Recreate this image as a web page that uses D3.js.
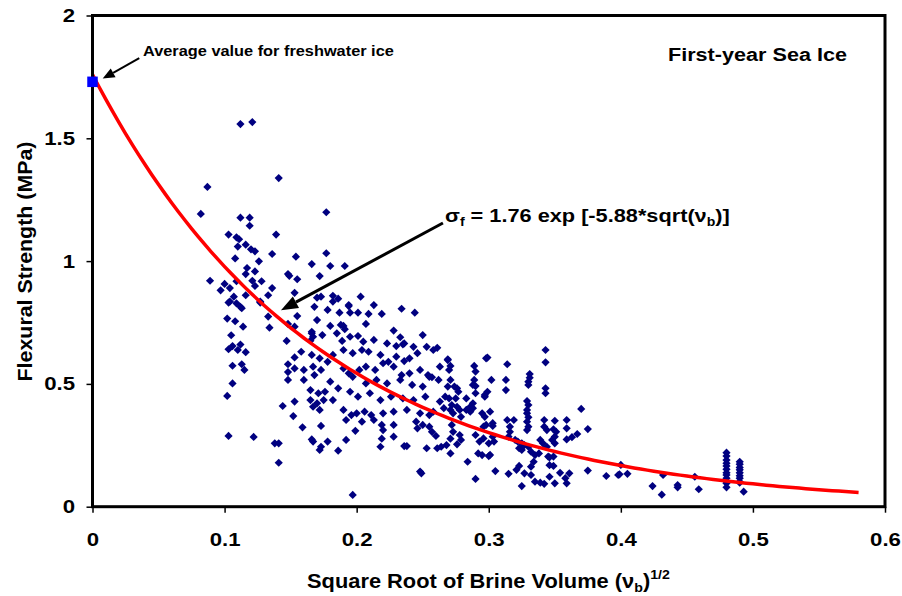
<!DOCTYPE html>
<html>
<head>
<meta charset="utf-8">
<script src="https://cdn.jsdelivr.net/npm/d3@7"></script>
<style>
  html, body { margin: 0; padding: 0; background: #fff; }
  svg { display: block; }
  text { font-family: "Liberation Sans", Arial, Helvetica, sans-serif; font-weight: bold; fill: #000; }
</style>
</head>
<body>
<svg id="chart" width="902" height="596"></svg>
<script>
// Axis ticks
const xTickValues = [0, 0.1, 0.2, 0.3, 0.4, 0.5, 0.6];
const xTickLabels = ["0", "0.1", "0.2", "0.3", "0.4", "0.5", "0.6"];
const yTickValues = [0, 0.5, 1, 1.5, 2];
const yTickLabels = ["0", "0.5", "1", "1.5", "2"];

// Fitted curve: sigma_f = 1.76 exp(-5.88 * sqrt(v_b))
const fitCoefficient = 1.76;
const fitExponent = -5.88;
const fitMaxX = 0.58;

// Freshwater ice reference value [sqrt(v_b), strength MPa]
const freshwaterIce = [0, 1.73];

// First-year sea ice samples: [sqrt(brine volume), flexural strength MPa]
const seaIceSamples = [
  [0.112,1.558],[0.121,1.566],[0.141,1.338],[0.087,1.302],[0.082,1.192],[0.112,1.177],[0.119,1.177],[0.119,1.144],
  [0.103,1.108],[0.109,1.097],[0.111,1.089],[0.110,1.059],[0.116,1.067],[0.120,1.048],[0.123,1.040],[0.139,1.108],
  [0.108,1.011],[0.126,0.999],[0.136,1.029],[0.117,0.972],[0.123,0.958],[0.116,0.947],[0.089,0.920],[0.100,0.907],
  [0.109,0.918],[0.121,0.920],[0.128,0.918],[0.097,0.881],[0.104,0.890],[0.123,0.899],[0.136,0.890],[0.133,0.861],
  [0.107,0.855],[0.116,0.861],[0.104,0.835],[0.127,0.835],[0.148,0.947],[0.154,1.018],[0.166,0.988],[0.177,1.032],
  [0.177,1.199],[0.180,0.980],[0.191,0.980],[0.155,0.926],[0.172,0.939],[0.153,0.871],[0.173,0.855],[0.182,0.859],
  [0.186,0.847],[0.203,0.855],[0.170,0.851],[0.149,0.940],
  [0.103,0.831],[0.109,0.828],[0.112,0.814],[0.113,0.808],[0.127,0.831],[0.102,0.766],[0.108,0.755],[0.114,0.733],
  [0.133,0.774],[0.134,0.729],[0.105,0.698],[0.106,0.654],[0.103,0.641],[0.110,0.638],[0.112,0.660],[0.116,0.629],
  [0.106,0.574],[0.113,0.580],[0.115,0.557],[0.106,0.502],[0.102,0.451],[0.103,0.288],[0.122,0.284],[0.138,0.258],
  [0.141,0.258],[0.141,0.179],[0.144,0.410],[0.147,0.675],[0.148,0.744],[0.148,0.580],[0.148,0.548],[0.148,0.516],
  [0.155,0.776],[0.153,0.733],[0.168,0.814],[0.178,0.801],[0.187,0.790],[0.195,0.790],[0.201,0.790],[0.209,0.785],
  [0.219,0.785],[0.213,0.821],[0.194,0.821],[0.234,0.806],[0.244,0.790],[0.182,0.835],[0.170,0.760],[0.180,0.736],
  [0.188,0.740],[0.207,0.744],[0.228,0.717],[0.233,0.690],[0.250,0.699],[0.166,0.706],[0.167,0.692],[0.165,0.676],
  [0.174,0.699],[0.185,0.706],[0.189,0.675],[0.195,0.692],[0.201,0.695],[0.205,0.672],[0.213,0.679],[0.223,0.665],
  [0.230,0.654],[0.236,0.665],[0.243,0.651],[0.253,0.651],[0.258,0.638],[0.269,0.597],[0.158,0.631],[0.153,0.608],
  [0.166,0.618],[0.172,0.604],[0.178,0.590],[0.182,0.618],[0.190,0.638],[0.197,0.625],[0.204,0.638],[0.209,0.631],
  [0.218,0.618],[0.224,0.590],[0.230,0.611],[0.240,0.604],[0.246,0.625],
  [0.153,0.563],[0.160,0.557],[0.167,0.570],[0.173,0.557],[0.160,0.516],[0.168,0.536],[0.190,0.563],[0.194,0.543],
  [0.197,0.529],[0.202,0.557],[0.207,0.570],[0.214,0.557],[0.220,0.584],[0.228,0.570],[0.234,0.536],[0.240,0.543],
  [0.248,0.557],[0.255,0.529],[0.263,0.570],
  [0.180,0.509],[0.186,0.482],[0.207,0.502],[0.215,0.516],[0.223,0.502],[0.233,0.516],[0.242,0.496],[0.250,0.489],
  [0.262,0.516],[0.269,0.489],
  [0.165,0.475],[0.171,0.462],[0.176,0.468],[0.195,0.468],[0.201,0.448],[0.210,0.462],[0.218,0.434],[0.226,0.448],
  [0.235,0.441],[0.243,0.434],[0.252,0.448],[0.263,0.428],
  [0.153,0.428],[0.165,0.434],[0.170,0.421],[0.175,0.434],[0.182,0.434],[0.167,0.407],[0.172,0.394],[0.190,0.394],
  [0.196,0.373],[0.200,0.380],[0.206,0.387],[0.211,0.373],[0.220,0.380],[0.228,0.387],[0.238,0.394],[0.248,0.380],
  [0.255,0.373],
  [0.192,0.353],[0.204,0.346],[0.213,0.353],[0.219,0.333],[0.228,0.333],[0.245,0.346],[0.250,0.333],[0.257,0.305],
  [0.260,0.288],
  [0.152,0.369],[0.159,0.323],[0.173,0.329],[0.199,0.309],[0.220,0.312],[0.228,0.285],[0.166,0.274],[0.167,0.265],
  [0.178,0.265],[0.173,0.244],[0.172,0.231],[0.192,0.272],[0.186,0.228],[0.218,0.244],[0.219,0.277],[0.236,0.247],
  [0.238,0.247],[0.248,0.143],[0.249,0.136],[0.197,0.048],[0.253,0.238],[0.261,0.238],[0.264,0.244],[0.268,0.251],
  [0.194,0.817],[0.190,0.736],[0.191,0.723],[0.166,0.712],
  [0.235,0.661],[0.261,0.647],[0.236,0.593],[0.269,0.600],[0.271,0.573],[0.270,0.557],[0.289,0.573],[0.290,0.550],
  [0.299,0.607],[0.254,0.536],[0.257,0.527],[0.271,0.516],[0.289,0.516],[0.290,0.491],[0.288,0.496],[0.302,0.516],
  [0.276,0.482],[0.277,0.468],[0.299,0.468],[0.297,0.455],[0.290,0.462],[0.267,0.448],
  [0.270,0.441],[0.275,0.441],[0.272,0.414],[0.271,0.394],[0.273,0.380],[0.283,0.441],[0.288,0.401],[0.286,0.387],
  [0.297,0.448],[0.301,0.387],[0.297,0.366],[0.303,0.340],[0.278,0.394],[0.279,0.366],[0.258,0.387],[0.266,0.401],
  [0.246,0.319],[0.255,0.326],[0.272,0.333],[0.273,0.305],[0.271,0.277],[0.278,0.292],[0.279,0.272],[0.276,0.254],
  [0.290,0.292],[0.293,0.265],[0.296,0.278],[0.300,0.258],[0.303,0.285],[0.271,0.217],[0.292,0.217],[0.295,0.210],
  [0.300,0.206],[0.284,0.183],[0.290,0.113],[0.305,0.145],
  [0.298,0.604],[0.274,0.489],[0.276,0.407],[0.283,0.394],[0.286,0.407],[0.288,0.421],[0.295,0.380],[0.296,0.326],
  [0.298,0.333],[0.301,0.211],[0.303,0.329],[0.304,0.265],
  [0.343,0.638],[0.343,0.588],[0.314,0.580],[0.313,0.516],[0.313,0.475],[0.331,0.540],[0.331,0.525],[0.330,0.509],
  [0.330,0.496],[0.343,0.482],[0.343,0.462],[0.329,0.430],[0.330,0.414],[0.329,0.394],[0.329,0.380],[0.330,0.364],
  [0.329,0.346],[0.330,0.326],[0.329,0.312],[0.370,0.398],[0.314,0.353],[0.319,0.353],[0.316,0.326],[0.316,0.305],
  [0.315,0.285],[0.342,0.353],[0.350,0.350],[0.359,0.353],[0.342,0.326],[0.344,0.312],[0.349,0.315],[0.351,0.305],
  [0.359,0.319],[0.375,0.316],[0.350,0.285],[0.348,0.272],[0.350,0.258],[0.359,0.274],[0.363,0.283],[0.367,0.296],
  [0.320,0.272],[0.322,0.265],[0.325,0.258],[0.327,0.251],[0.323,0.238],[0.325,0.231],[0.330,0.244],[0.332,0.224],
  [0.335,0.210],[0.338,0.217],[0.339,0.272],[0.341,0.258],[0.344,0.244],[0.345,0.204],[0.346,0.201],[0.349,0.204],
  [0.334,0.183],[0.332,0.163],[0.346,0.169],[0.349,0.166],[0.323,0.166],[0.321,0.150],[0.315,0.134],[0.327,0.136],
  [0.332,0.129],[0.346,0.122],[0.354,0.138],[0.361,0.136],[0.375,0.147],[0.358,0.116],[0.359,0.095],[0.350,0.095],
  [0.335,0.102],[0.339,0.098],[0.342,0.093],[0.325,0.084],
  [0.389,0.125],[0.398,0.129],[0.399,0.132],[0.400,0.170],[0.405,0.134],[0.424,0.084],[0.432,0.129],[0.431,0.049],
  [0.443,0.088],[0.443,0.079],[0.456,0.122],[0.459,0.071],
  [0.480,0.220],[0.480,0.206],[0.480,0.190],[0.480,0.177],[0.480,0.166],[0.480,0.152],[0.480,0.138],[0.480,0.129],
  [0.480,0.116],[0.480,0.102],[0.480,0.095],[0.480,0.079],
  [0.490,0.183],[0.490,0.173],[0.490,0.160],[0.490,0.150],[0.490,0.138],[0.490,0.126],[0.490,0.116],[0.490,0.102],
  [0.490,0.098],[0.493,0.061]
];

// Annotation arrows in data units: [fromX, fromY, toX, toY]
const freshwaterArrow = [0.0354, 1.826, 0.0077, 1.743];
const equationArrow = [0.2653, 1.155, 0.1427, 0.800];

const svg = d3.select("#chart");
const plot = { left: 92.5, right: 885, top: 15.5, bottom: 506.7 };

const x = d3.scaleLinear().domain([0, 0.6]).range([plot.left, plot.right]);
const y = d3.scaleLinear().domain([0, 2]).range([plot.bottom, plot.top]);

svg.append("rect").attr("width", 902).attr("height", 596).attr("fill", "#fff");

// Axes (ticks and labels); the frame is drawn separately
const tickFont = 18.5, tickStretch = 1.2;
const xAxis = d3.axisBottom(x).tickValues(xTickValues)
  .tickFormat((d, i) => xTickLabels[i]).tickSize(6).tickSizeOuter(0).tickPadding(20);
const yAxis = d3.axisLeft(y).tickValues(yTickValues)
  .tickFormat((d, i) => yTickLabels[i]).tickSize(6).tickSizeOuter(0).tickPadding(8.6);

const gx = svg.append("g").attr("transform", `translate(0,${plot.bottom})`).call(xAxis);
const gy = svg.append("g").attr("transform", `translate(${plot.left},0)`).call(yAxis);
[gx, gy].forEach(g => {
  g.select(".domain").remove();
  g.selectAll(".tick line").attr("stroke", "#000").attr("stroke-width", 1.5);
  g.selectAll(".tick text")
    .attr("font-size", tickFont)
    .attr("font-family", null)
    .attr("fill", "#000")
    .attr("transform", `scale(${tickStretch},1)`);
});

// Sample points as diamonds
const r = 4.1;
const diamond = `M0,${-r}L${r},0L0,${r}L${-r},0Z`;
svg.append("g").selectAll("path")
  .data(seaIceSamples)
  .join("path")
  .attr("d", diamond)
  .attr("transform", d => `translate(${x(d[0])},${y(d[1])})`)
  .attr("fill", "#000080");

// Fitted exponential curve
const fitPoints = d3.range(0, fitMaxX + 1e-9, 0.005).map(v => [v, fitCoefficient * Math.exp(fitExponent * v)]);
svg.append("path")
  .datum(fitPoints)
  .attr("fill", "none")
  .attr("stroke", "#ff0000")
  .attr("stroke-width", 3.5)
  .attr("stroke-linecap", "butt")
  .attr("d", d3.line().x(d => x(d[0])).y(d => y(d[1])));

// Plot frame
svg.append("rect")
  .attr("x", plot.left).attr("y", plot.top)
  .attr("width", plot.right - plot.left).attr("height", plot.bottom - plot.top)
  .attr("fill", "none").attr("stroke", "#000").attr("stroke-width", 3);

// Freshwater ice marker
const sq = 10.5;
svg.append("rect")
  .attr("x", x(freshwaterIce[0]) - sq / 2).attr("y", y(freshwaterIce[1]) - sq / 2)
  .attr("width", sq).attr("height", sq)
  .attr("fill", "#0000ff");

// Arrows
function arrow(a, width, headLen, headHalf) {
  const x1 = x(a[0]), y1 = y(a[1]), x2 = x(a[2]), y2 = y(a[3]);
  const ang = Math.atan2(y2 - y1, x2 - x1);
  const bx = x2 - headLen * Math.cos(ang), by = y2 - headLen * Math.sin(ang);
  svg.append("line")
    .attr("x1", x1).attr("y1", y1).attr("x2", bx).attr("y2", by)
    .attr("stroke", "#000").attr("stroke-width", width);
  const px = -Math.sin(ang) * headHalf, py = Math.cos(ang) * headHalf;
  svg.append("path")
    .attr("d", `M${x2},${y2}L${bx + px},${by + py}L${bx - px},${by - py}Z`)
    .attr("fill", "#000");
}
arrow(freshwaterArrow, 2, 12, 5);
arrow(equationArrow, 3, 17, 6.5);

// Text helper: builds a text from parts and stretches it to a given width
function addText(px, py, parts, size, targetWidth, opts = {}) {
  const t = svg.append("text").attr("font-size", size).attr("x", 0).attr("y", 0);
  if (opts.anchor) t.attr("text-anchor", opts.anchor);
  parts.forEach(p => {
    const s = t.append("tspan").text(p.text);
    if (p.size) s.attr("font-size", p.size);
    if (p.dy) s.attr("dy", p.dy);
  });
  const natural = t.node().getComputedTextLength();
  const k = targetWidth ? targetWidth / natural : 1;
  const rot = opts.rotate ? ` rotate(${opts.rotate})` : "";
  t.attr("transform", `translate(${px},${py})${rot} scale(${k},1)`);
  return t;
}

addText(143, 56, [{ text: "Average value for freshwater ice" }], 14.5, 251);
addText(668, 61, [{ text: "First-year Sea Ice" }], 18.5, 179);
addText(445, 221.5, [
  { text: "σ" },
  { text: "f", size: 12, dy: 4 },
  { text: " = 1.76 exp [-5.88*sqrt(ν", dy: -4 },
  { text: "b", size: 12, dy: 4 },
  { text: ")]", dy: -4 }
], 18.5, 285);
addText(307, 588, [
  { text: "Square Root of Brine Volume (ν" },
  { text: "b", size: 13, dy: 4 },
  { text: ")", dy: -4 },
  { text: "1/2", size: 13, dy: -9 }
], 20, 363);
addText(31.5, 261.5, [{ text: "Flexural Strength (MPa)" }], 20.5, 240, { anchor: "middle", rotate: -90 });
</script>
</body>
</html>
